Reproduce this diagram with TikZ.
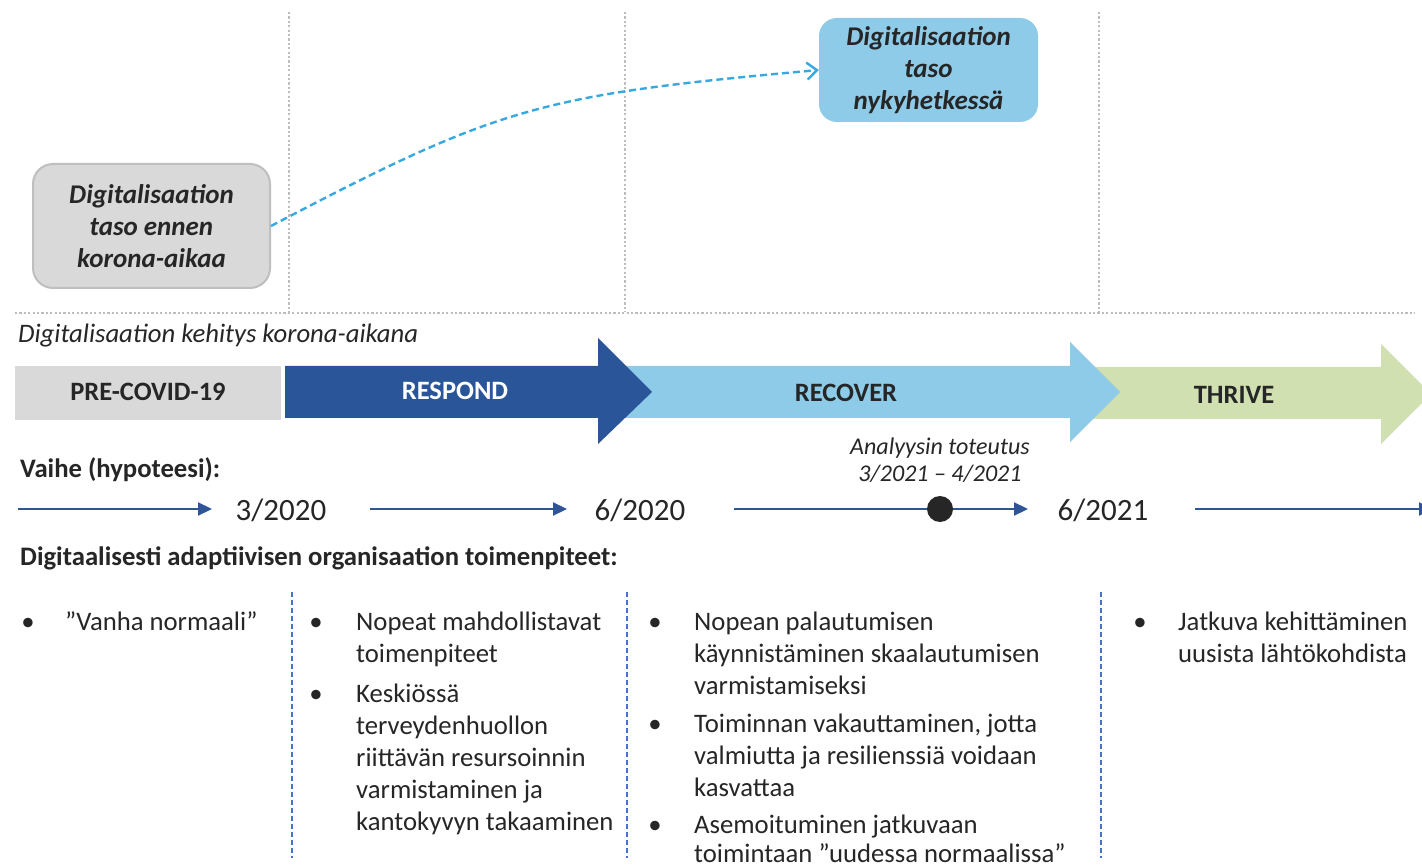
\documentclass[tikz,border=0pt]{standalone}
\usepackage{fontspec}
\setmainfont{Carlito}
\usetikzlibrary{arrows.meta}

\definecolor{ink}{HTML}{262626}
\definecolor{paleGray}{HTML}{D9D9D9}
\definecolor{boxEdge}{HTML}{BFBFBF}
\definecolor{gridGray}{HTML}{BDBDBD}
\definecolor{respondBlue}{HTML}{2A5599}
\definecolor{recoverBlue}{HTML}{8DCBE8}
\definecolor{thriveGreen}{HTML}{D0E0B0}
\definecolor{curveBlue}{HTML}{36A9E0}
\definecolor{lineBlue}{HTML}{2F5597}
\definecolor{sepBlue}{HTML}{4472C4}

\newcommand\bodysize{\fontsize{26.7}{32}\selectfont}

\begin{document}
\begin{tikzpicture}[x=1pt, y=-1pt,
  every node/.style={text=ink, inner sep=0pt},
  gridline/.style={gridGray, line width=2.2pt, dash pattern=on 2.2pt off 2.2pt},
  sepline/.style={sepBlue, line width=1.1pt, dash pattern=on 5pt off 3pt},
  levelbox/.style={rounded corners=20pt, align=center,
    font=\fontsize{27}{32}\selectfont\bfseries\itshape},
  phase/.style={anchor=base, font=\fontsize{26.5}{32}\selectfont\bfseries},
  flow/.style={lineBlue, line width=2.2pt, -{Triangle[length=14pt,width=13pt]}},
  datelabel/.style={anchor=base, font=\fontsize{31}{36}\selectfont},
  heading/.style={anchor=base west, font=\fontsize{26.7}{32}\selectfont\bfseries},
  bulletmark/.style={anchor=base, font=\bodysize},
  itemtext/.style={anchor=base west, font=\bodysize}]

\useasboundingbox (0,0) rectangle (1422,866);
\fill[white] (0,0) rectangle (1422,866);
\clip (0,0) rectangle (1422,866);

% grid of the upper panel
\coordinate (g1t) at (289,12);   \coordinate (g1b) at (289,312);
\coordinate (g2t) at (625,12);   \coordinate (g2b) at (625,312);
\coordinate (g3t) at (1099,12);  \coordinate (g3b) at (1099,312);
\coordinate (hl)  at (15,313);   \coordinate (hr)  at (1415,313);
\draw[gridline] (g1t) -- (g1b);
\draw[gridline] (g2t) -- (g2b);
\draw[gridline] (g3t) -- (g3b);
\draw[gridline] (hl) -- (hr);

% digitalisation levels
\node[levelbox, fill=paleGray, draw=boxEdge, line width=2pt,
      minimum width=237pt, minimum height=124pt] (before) at (151.5,226)
  {Digitalisaation\\taso ennen\\korona-aikaa};
\node[levelbox, rounded corners=18pt, fill=recoverBlue,
      minimum width=219pt, minimum height=104pt] (now) at (928.5,70)
  {\raisebox{-2pt}{\parbox{200pt}{\centering Digitalisaation\\taso\\nykyhetkessä}}};
\draw[curveBlue, line width=2.4pt, dash pattern=on 7pt off 4pt,
      -{Straight Barb[length=10pt,width=17pt]}]
  (before.east) .. controls (500,106) and (540,95) .. (now.west);

\node[anchor=base west, font=\fontsize{26.7}{32}\selectfont\itshape]
  (devtitle) at (18,343) {Digitalisaation kehitys korona-aikana};

% phase band
\fill[paleGray] (15,366) rectangle (281,420);
\fill[thriveGreen] (1090,367) -- (1381,367) -- (1381,344) -- (1431,394)
  -- (1381,444) -- (1381,419) -- (1090,419) -- cycle;
\fill[recoverBlue] (618,366) -- (1070,366) -- (1070,342) -- (1120,392)
  -- (1070,442) -- (1070,418) -- (618,418) -- cycle;
\fill[respondBlue] (285,366) -- (598,366) -- (598,338) -- (652,392)
  -- (598,444) -- (598,418) -- (285,418) -- cycle;
\node[phase] (pre) at (148,400.5) {PRE-COVID-19};
\node[phase, text=white] (respond) at (455,399.5) {RESPOND};
\node[phase] (recover) at (846,401.5) {RECOVER};
\node[phase] (thrive) at (1234,403.5) {THRIVE};

% timeline
\node[heading] (vaihe) at (20,477) {Vaihe (hypoteesi):};
\coordinate (a1s) at (18,509);   \coordinate (a1e) at (212,509);
\coordinate (a2s) at (370,509);  \coordinate (a2e) at (567,509);
\coordinate (a3s) at (734,509);  \coordinate (a3e) at (1028,509);
\coordinate (a4s) at (1195,509); \coordinate (a4e) at (1433,509);
\draw[flow] (a1s) -- (a1e);
\draw[flow] (a2s) -- (a2e);
\draw[flow] (a3s) -- (a3e);
\draw[flow] (a4s) -- (a4e);
\node[circle, fill=ink, minimum size=26pt] (analysis) at (940,509) {};
\node[datelabel] (d1) at (281,520) {3/2020};
\node[datelabel] (d2) at (640,520) {6/2020};
\node[datelabel] (d3) at (1103,520) {6/2021};
\node[anchor=base, align=center, font=\fontsize{24}{28}\selectfont\itshape]
  (analysislabel) at (940,482) {Analyysin toteutus\\3/2021 -- 4/2021};

% measures
\node[heading] (measures) at (20,565)
  {Digitaalisesti adaptiivisen organisaation toimenpiteet:};
\coordinate (s1t) at (292,592);  \coordinate (s1b) at (292,858);
\coordinate (s2t) at (627,592);  \coordinate (s2b) at (627,858);
\coordinate (s3t) at (1101,592); \coordinate (s3b) at (1101,858);
\draw[sepline] (s1t) -- (s1b);
\draw[sepline] (s2t) -- (s2b);
\draw[sepline] (s3t) -- (s3b);

\node[bulletmark] (b1a) at (28,630) {\textbullet};
\node[itemtext] (c1a) at (65,630) {”Vanha normaali”};

\node[bulletmark] (b2a) at (316,630) {\textbullet};
\node[itemtext] (c2a) at (356,630)
  {\parbox[t]{300pt}{Nopeat mahdollistavat\\toimenpiteet}};
\node[bulletmark] (b2b) at (316,702) {\textbullet};
\node[itemtext] (c2b) at (356,702)
  {\parbox[t]{300pt}{Keskiössä\\terveydenhuollon\\riittävän resursoinnin\\varmistaminen ja\\kantokyvyn takaaminen}};

\node[bulletmark] (b3a) at (655,630) {\textbullet};
\node[itemtext] (c3a) at (694,630)
  {\parbox[t]{400pt}{Nopean palautumisen\\käynnistäminen skaalautumisen\\varmistamiseksi}};
\node[bulletmark] (b3b) at (655,732) {\textbullet};
\node[itemtext] (c3b) at (694,732)
  {\parbox[t]{400pt}{Toiminnan vakauttaminen, jotta\\valmiutta ja resilienssiä voidaan\\kasvattaa}};
\node[bulletmark] (b3c) at (655,833) {\textbullet};
\node[itemtext] (c3c) at (694,833)
  {\parbox[t]{400pt}{Asemoituminen jatkuvaan\\[-3pt]toimintaan ”uudessa normaalissa”}};

\node[bulletmark] (b4a) at (1140,630) {\textbullet};
\node[itemtext] (c4a) at (1178,630)
  {\parbox[t]{300pt}{Jatkuva kehittäminen\\uusista lähtökohdista}};
\end{tikzpicture}
\end{document}
